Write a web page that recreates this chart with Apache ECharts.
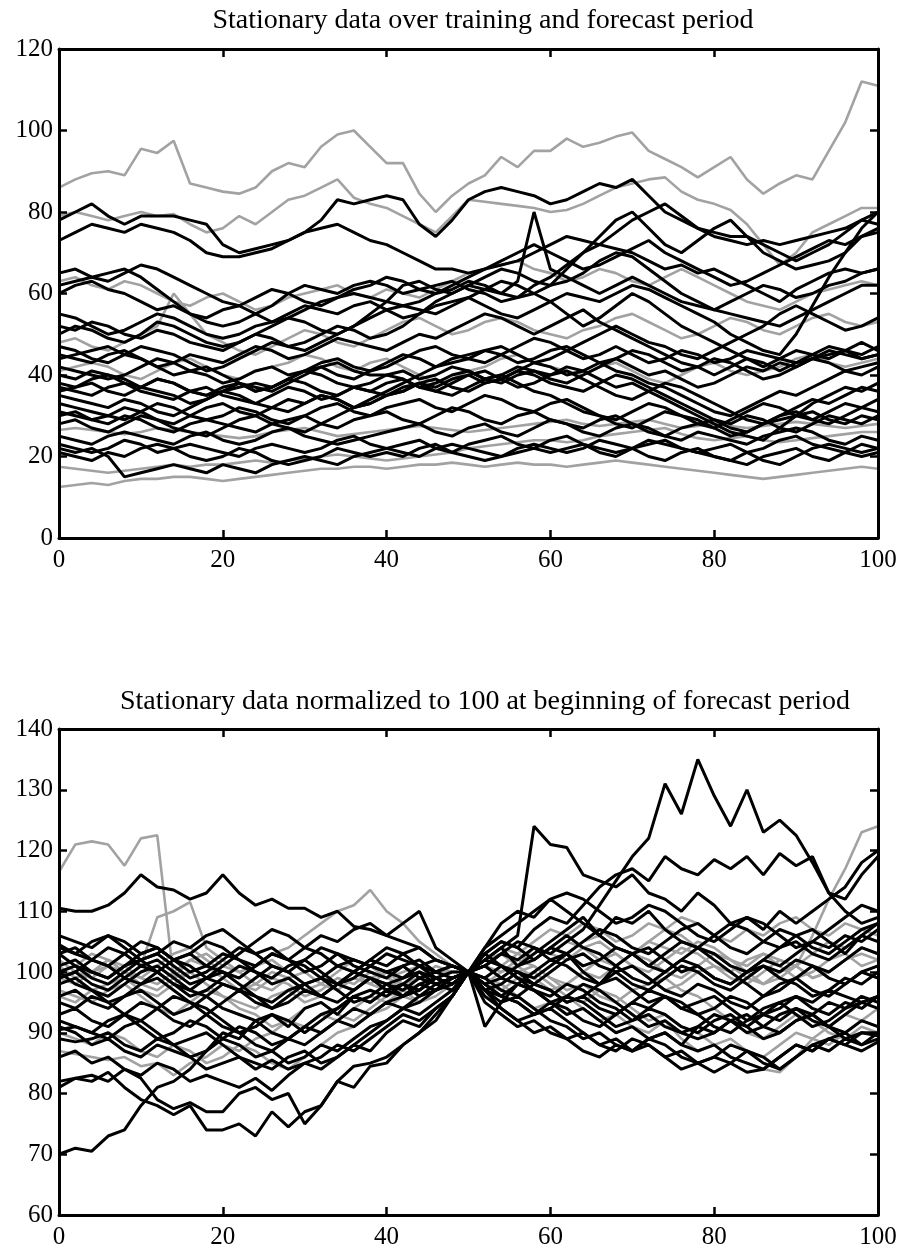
<!DOCTYPE html>
<html>
<head>
<meta charset="utf-8">
<title>Stationary data</title>
<script src="https://cdn.jsdelivr.net/npm/echarts@6/dist/echarts.min.js"></script>
<style>
html, body { margin: 0; padding: 0; background: #fff; }
#chart { width: 907px; height: 1251px; }
</style>
</head>
<body>
<div id="chart"></div>
<script>
// time steps, read every second step of the 0..100 period
var days = [0,2,4,6,8,10,12,14,16,18,
  20,22,24,26,28,30,32,34,36,38,
  40,42,44,46,48,50,52,54,56,58,
  60,62,64,66,68,70,72,74,76,78,
  80,82,84,86,88,90,92,94,96,98,
  100];

var xTicks = [0, 20, 40, 60, 80, 100];
var topTicks = [0, 20, 40, 60, 80, 100, 120];
var lowTicks = [60, 70, 80, 90, 100, 110, 120, 130, 140];

// ---- upper panel: raw series (grey ones first) ----
var tGrayA = [86,88,89.5,90,89,95.5,94.5,97.5,87,86,
  85,84.5,86,90,92,91,96,99,100,96,
  92,92,84.5,80,84,87,89,93.5,91,95,
  95,98,96,97,98.5,99.5,95,93,91,88.5,
  91,93.5,88,84.5,87,89,88,95,102,112,
  111];
var tGrayB = [79,80,79,78,79,80,79,79.5,77,75,
  76,79,77,80,83,84,86,88,83.5,82,
  81,79,77,75,79,83,82.5,82,81.5,81,
  80,80.5,82,84,86,87,88,88.5,85,83,
  82,80.5,77,72,67,70,75,77,79,81,
  81];
var tGray63 = [63,64,62,61,63,62,60,58,57,59,
  60,58,56,57,59,60,61,62,60,59,
  61,60,59,61,63,65,66,67,68,66,
  65,63,64,66,65,63,62,64,66,64,
  62,60,58,57,56,58,60,61,62,63,
  62];
var tGray48 = [48,49,47,46,48,50,52,60,55,50,
  48,46,45,47,49,51,50,48,47,49,
  51,53,54,52,50,51,53,54,53,51,
  50,49,51,52,54,55,53,51,49,50,
  52,54,53,51,50,52,54,55,53,52,
  53];
var tGray41 = [41,42,43,42,40,39,41,43,44,42,
  40,39,41,42,43,45,44,42,41,43,
  44,42,40,38,39,41,42,44,45,43,
  42,41,40,42,43,41,39,38,40,42,
  43,41,40,41,42,44,45,43,42,43,
  44];
var tGray26 = [26.5,27,26.5,26,25.5,26,27,26.5,26,25.5,
  25,24.5,25,26,26.5,27,26,25,25.5,26,
  26.5,27,27.5,27,26.5,26,26.5,27,27.5,28,
  28.5,29,28,27.5,28,28.5,29,28,27,27.5,
  28,27.5,27,27.5,28,28.5,28,27.5,27,27.5,
  28];
var tGray17 = [17.5,17,16.5,16,16.5,17,17.5,18,17.5,18,
  18,18.5,19,18.5,19,19.5,20,20.5,20,19.5,
  19,19.5,20,20.5,21,22,22.5,23,23.5,24,
  24,23.5,24,25,25.5,26,26.5,27,25.5,24.5,
  24,24.5,25,24,23.5,24,24.5,25,25.5,26,
  26];
var tGray12 = [12.5,13,13.5,13,14,14.5,14.5,15,15,14.5,
  14,14.5,15,15.5,16,16.5,17,17,17.5,17.5,
  17,17.5,18,18,18.5,18,17.5,18,18.5,18,
  18,17.5,18,18.5,19,18.5,18,17.5,17,16.5,
  16,15.5,15,14.5,15,15.5,16,16.5,17,17.5,
  17];

var tK78 = [78,80,82,79,77,79,79,79,78,77,
  72,70,71,72,73,75,78,83,82,83,
  84,83,77,74,78,83,85,86,85,84,
  82,83,85,87,86,88,84,80,78,76,
  75,74,74,72,70,68,70,72,75,78,
  80];
var tK73 = [73,75,77,76,75,77,76,75,73,70,
  69,69,70,71,73,75,76,77,75,73,
  72,70,68,66,66,65,66,67,68,70,
  72,74,73,72,75,78,80,82,79,76,
  74,73,72,73,72,73,74,75,76,78,
  77];
var tK65 = [65,66,64,63,65,67,66,64,62,60,
  58,57,59,61,60,58,57,59,61,62,
  64,63,61,60,62,64,66,68,70,72,
  70,68,66,67,69,71,73,70,68,66,
  64,62,63,65,67,69,71,73,72,74,
  75];
var tK62 = [62,63,64,65,66,64,61,58,55,54,
  56,57,55,53,54,56,58,59,60,59,
  58,57,58,60,61,63,62,60,59,60,
  62,63,65,68,70,69,66,63,60,58,
  56,55,54,53,52,54,56,58,60,62,
  62];
var tK60 = [60,62,63,61,60,58,56,57,55,53,
  52,53,55,57,60,62,61,60,62,63,
  62,60,61,62,63,61,60,58,59,62,
  64,67,70,72,71,70,68,66,67,65,
  66,64,62,60,58,61,63,65,66,65,
  66];
var tK55 = [55,54,52,50,51,53,55,54,52,50,
  49,50,52,53,55,57,56,55,57,58,
  56,54,55,57,58,59,57,55,54,56,
  58,60,59,58,60,62,61,59,57,55,
  53,50,48,46,45,50,57,64,70,76,
  80];
var tK52 = [52,51,53,52,50,49,51,50,48,47,
  46,48,50,49,47,48,50,52,51,49,
  50,52,55,58,60,62,61,60,63,80,
  66,64,62,60,62,64,62,60,58,57,
  56,58,60,62,61,59,60,62,63,65,
  66];
var tK50 = [50,52,51,49,48,50,53,52,50,48,
  47,48,50,52,54,53,51,50,52,55,
  58,62,63,61,60,62,64,66,65,63,
  62,66,70,74,78,80,76,72,70,73,
  76,78,74,70,68,66,67,68,70,74,
  76];
var tK47 = [47,46,44,43,45,47,46,45,43,41,
  42,44,46,48,47,46,48,50,52,54,
  56,57,56,55,57,59,61,63,62,60,
  58,55,52,54,57,60,58,55,52,50,
  48,46,44,42,44,46,45,44,46,48,
  46];
var tK45 = [45,44,43,45,46,44,42,43,45,44,
  43,45,47,46,44,45,47,49,48,47,
  46,48,50,49,51,53,55,54,52,50,
  52,54,56,53,51,49,47,45,43,42,
  40,42,44,43,41,43,45,47,46,45,
  47];
var tK44 = [44,45,46,47,45,44,42,40,41,42,
  40,38,36,37,39,41,40,38,37,36,
  35,36,38,39,37,36,38,39,41,40,
  38,37,36,38,40,39,37,35,33,31,
  29,28,30,29,27,26,28,30,29,28,
  30];
var tK42 = [42,41,40,39,40,42,44,43,41,40,
  38,39,41,42,40,41,43,44,42,41,
  43,45,44,42,43,44,46,45,43,44,
  46,47,45,43,41,40,38,37,35,33,
  31,30,32,34,36,35,37,39,41,40,
  42];
var tK40 = [40,39,41,40,38,37,39,38,36,35,
  36,38,37,36,38,40,42,43,41,40,
  40,41,39,40,42,41,39,38,40,41,
  39,38,40,42,44,46,45,43,41,42,
  44,43,41,39,40,42,44,45,46,44,
  45];
var tK38 = [38,37,39,40,39,37,36,35,33,34,
  36,37,38,37,39,41,42,40,39,41,
  42,44,46,47,45,44,43,45,47,49,
  48,46,44,45,47,45,43,44,46,45,
  43,44,46,45,44,43,44,46,45,44,
  45];
var tK37 = [37,36,35,37,38,36,35,34,36,37,
  35,34,33,35,37,36,34,35,37,36,
  38,39,37,36,38,40,41,39,37,38,
  40,41,39,37,35,34,36,38,37,35,
  33,31,29,28,30,32,34,33,35,37,
  36];
var tK36 = [36,37,38,36,35,37,39,38,36,35,
  37,38,36,37,39,38,36,35,37,38,
  40,39,37,38,40,41,39,40,42,41,
  40,42,41,39,37,38,36,34,32,30,
  28,26,25,24,27,30,33,35,37,36,
  38];
var tK35 = [35,34,33,32,34,33,31,30,32,34,
  36,35,33,32,31,33,35,34,32,33,
  35,37,38,36,35,37,39,40,38,36,
  35,33,31,30,29,31,33,32,30,29,
  27,25,26,28,30,31,29,28,30,32,
  31];
var tK33 = [33,32,31,30,29,31,33,32,30,29,
  30,32,31,29,28,30,32,33,31,30,
  32,33,34,32,31,33,35,34,32,31,
  33,34,32,30,28,27,29,31,30,28,
  27,29,31,33,32,30,29,31,33,32,
  34];
var tK31 = [31,30,29,28,30,29,27,26,28,29,
  28,27,26,28,29,30,28,27,29,30,
  31,29,28,30,32,31,29,28,30,31,
  29,28,27,29,30,28,26,25,27,28,
  29,27,26,28,29,30,31,29,28,30,
  29];
var tK30 = [30,31,29,30,32,31,29,28,30,32,
  33,31,30,32,34,33,35,34,32,33,
  35,36,38,37,39,40,38,39,41,43,
  42,40,41,43,44,42,40,41,39,37,
  38,40,42,41,43,42,44,43,41,42,
  43];
var tK28 = [28,29,27,26,28,30,29,27,26,25,
  27,29,30,28,27,26,28,30,32,34,
  36,38,40,42,44,45,46,47,45,43,
  44,46,48,50,52,50,48,47,45,44,
  46,48,50,52,55,57,55,53,51,52,
  54];
var tK25 = [25,24,23,25,26,25,24,23,25,26,
  24,23,24,26,27,25,24,23,24,25,
  26,27,28,26,25,27,28,26,25,27,
  29,28,26,25,27,28,27,25,24,26,
  25,24,23,25,26,27,26,24,23,25,
  24];
var tK23 = [23,22,21,22,24,23,21,22,23,22,
  21,20,22,23,22,21,22,24,25,23,
  22,23,24,22,21,23,24,25,23,22,
  24,25,23,22,21,22,24,23,22,21,
  20,19,21,22,24,25,23,22,21,23,
  22];
var tK22 = [22,21,22,20,15,16,17,18,17,16,
  18,17,16,18,19,20,19,18,20,21,
  22,21,20,22,23,22,21,20,22,23,
  22,21,22,24,23,22,20,19,21,22,
  20,19,18,20,21,22,20,19,21,20,
  21];
var tK21 = [21,20,19,21,20,22,23,22,20,19,
  20,22,21,19,18,19,20,22,21,20,
  21,20,22,23,21,20,19,20,21,22,
  21,22,23,21,20,22,23,24,22,21,
  22,23,21,19,18,20,22,23,22,21,
  22];

// ---- lower panel: series divided by their value at step 50 (x100) ----
var nGray116 = [116.5,121,121.5,121,117.5,122,122.5,99,102,101,
  100,98,97,99,98,96,97,99,98,100,
  99,98,99,100,100,100,102,101,103,102,
  104,103,105,106,104,103,105,107,106,104,
  103,101,99,98,100,101,99,100,102,103,
  102];
var nGray102 = [102,100,99,101,100,98,97,99,100,98,
  96,95,94,96,97,95,96,98,97,99,
  100,98,99,101,100,100,102,103,101,104,
  103,102,104,105,103,101,100,102,104,103,
  101,100,102,103,101,99,100,102,103,101,
  102];
var nGray97 = [97,96,95,97,98,96,94,93,95,97,
  96,94,93,91,92,94,95,93,92,94,
  96,97,95,96,98,100,101,100,102,101,
  99,98,100,102,103,101,99,97,98,100,
  101,99,98,100,102,101,99,100,102,104,
  103];
var nGray90 = [90,89,88,90,89,87,86,88,87,85,
  86,88,87,85,84,86,88,90,91,93,
  94,96,95,97,98,100,98,97,99,100,
  98,96,95,97,96,94,92,93,91,90,
  88,89,87,86,88,90,89,91,93,92,
  94];
var nGray87 = [87,86.5,86,85.5,86,84.5,85,83,85,86,
  88,87,89,90,92,91,93,92,94,96,
  95,97,98,97,99,100,102,104,103,105,
  107,106,108,107,105,106,108,107,109,108,
  106,105,107,106,108,109,107,106,108,107,
  106];
var nGray96 = [96,95,97,98,99,101,109,110,111.5,104,
  102,100,101,103,104,106,108,110,111,113.5,
  110,108,105,103,101,100,99,98,100,101,
  99,97,98,96,95,97,98,99,97,96,
  94,92,90,89,91,93,92,90,89,91,
  90];
var nGray99 = [99,98,100,101,99,97,96,98,100,101,
  99,97,98,100,99,97,98,100,102,101,
  99,100,101,99,100,100,101,103,102,104,
  103,105,104,102,101,103,105,104,103,105,
  104,102,101,103,102,101,106,112,117,123,
  124];
var nGray101 = [101,99,100,102,101,99,98,100,102,103,
  101,100,98,97,99,100,98,97,99,98,
  100,101,99,98,99,100,97,98,96,94,
  95,96,94,92,93,91,90,92,89,87,
  88,86,85,84,83.5,86,89,88,90,92,
  91];
var nGray100 = [100,101,103,102,100,99,101,103,104,102,
  100,99,101,102,100,98,99,101,100,98,
  97,99,100,98,99,100,98,100,101,99,
  97,98,100,99,101,103,102,100,99,101,
  103,102,100,98,99,101,103,105,104,106,
  105];

var nK110 = [110.5,110,110,111,113,116,114,113.5,112,113,
  116,113,111,112,110.5,110.5,109,110,107.5,107,
  106,105,104,102,101,100,102,104,101,103,
  105,107,109,106,104,103,101,103,105,104,
  102,100,98,96,97,99,101,100,102,104,
  103];
var nK70 = [70,71,70.5,73,74,78,81,82,84,87,
  90,89,92,93,91,94,95,93,96,97,
  96,98,97,99,98,100,99,97,96,98,
  97,95,96,98,99,97,95,96,94,95,
  96,94,92,93,95,96,94,93,95,94,
  96];
var nK82 = [82,82.5,83,82,84,82.5,79,77.5,78.5,77,
  77,80,81,79,80,75,78,82,84.5,85,
  86,88,90,92,96,100,103,101,99,97,
  95,96,98,97,95,93,91,92,90,91,
  93,92,90,91,93,94,92,91,93,95,
  94];
var nK81 = [81,82.5,82,83.5,81,79,78,76.5,78,74,
  74,75,73,77,74.5,77,78,82,81,84.5,
  85,88,90,93,96,100,97,98,100,99,
  101,103,100,98,101,103,104,102,100,101,
  99,98,100,102,101,103,105,104,106,105,
  107];
var nK106 = [106,105,104,106,105,103,104,102,103,105,
  104,102,101,103,102,100,101,103,102,101,
  100,101,99,100,101,100,98,99,101,102,
  104,103,101,102,104,103,101,100,102,104,
  103,101,100,102,104,105,103,102,104,106,
  105];
var nK104 = [104.5,103,102,104,103,101,102,100,98,99,
  101,103,105,107,106,104,103,101,100,102,
  104,103,101,100,99,100,104,106,108,110,
  112,113,112,110,108,109,111,110,108,106,
  105,107,109,108,106,104,105,107,109,111,
  110];
var nK103 = [103,101,100,99,101,102,100,98,97,99,
  100,98,96,95,97,98,96,95,97,99,
  98,96,97,99,98,100,101,99,98,100,
  102,101,99,98,100,101,99,97,96,98,
  97,95,94,96,98,99,97,96,98,100,
  99];
var nK100 = [100,98,97,95,96,98,99,97,95,94,
  92,90,91,93,92,90,92,94,96,95,
  97,98,96,97,99,100,98,96,95,93,
  94,96,95,93,91,92,94,93,91,90,
  92,93,91,89,90,92,93,91,90,92,
  91];
var nK98 = [98,99,97,96,98,100,101,99,97,96,
  94,93,92,90,89,91,90,92,94,93,
  95,96,98,97,99,100,103,105,104,102,
  104,106,104,103,101,99,98,100,102,101,
  99,98,100,101,99,98,96,97,99,98,
  100];
var nK95 = [95,94,96,95,93,92,94,96,95,93,
  91,90,88,87,89,88,90,92,91,93,
  95,94,96,98,99,100,97,95,96,94,
  92,91,89,90,88,87,89,88,86,85,
  86,88,87,85,84,86,88,89,90,88,
  89];
var nK92 = [92,91,90,92,93,91,89,90,92,91,
  89,88,86,87,85,86,88,87,89,91,
  92,94,95,97,98,100,99,101,100,98,
  97,95,96,94,93,95,97,96,94,93,
  91,90,92,94,95,93,91,92,94,95,
  96];
var nK90 = [90.5,91,90,89,91,92,90,88,89,90,
  88,86,85,84,86,87,85,86,88,90,
  92,94,93,95,97,100,101,103,105,104,
  102,103,105,107,106,104,103,105,107,108,
  106,104,103,105,107,106,104,103,105,107,
  108];
var nK89 = [89,88.5,89,90,88,87,89,88,86,87,
  89,91,90,88,89,91,93,94,96,95,
  97,96,98,99,98,100,96,94,92,93,
  95,94,92,91,93,95,94,96,95,93,
  94,96,95,93,94,96,95,97,96,95,
  96];
var nK86 = [86,87,85,86,84,83,85,84,82,83,
  82,81,82.5,80.5,83,85,84,86,88,87,
  90,92,91,94,96,100,95,93,91,92,
  90,89,90,88,87,89,88,86,84,85,
  83.5,85,87,86,84,86,88,87,89,88,
  90];
var nK104b = [104,103,105,106,104,102,103,105,104,106,
  107,105,103,104,102,104,106,105,107,108,
  106,108,110,104,102,100,97,96,98,97,
  95,93,94,92,90,91,89,90,88,87,
  88,86,85,84,86,88,87,89,88,87,
  88.5];
var nK91 = [91,90,88,89,87,86,88,87,86,84,
  85,86,84,85.5,84,85,86,88,87,89,
  91,93,92,94,96,100,91,95,98,97,
  96,98,97,95,94,92,93,91,90,89,
  90,92,91,93,92,94,93,95,94,96,
  95];
var nK101 = [101,102,100,99,101,103,104,102,100,101,
  103,102,100,99,101,102,100,98,99,101,
  100,99,101,102,101,100,101,103,102,104,
  103,105,107,111,115,119,122,131,126,135,
  129,124,130,123,125,122.5,118,113,112,116,
  119];
var nK99 = [99,100,102,101,99,98,100,102,101,99,
  98,97,99,101,100,98,99,101,102,101,
  103,102,101,99,100,100,102,104,106,124,
  121,120.5,116,115,114,116,113,112,110,113,
  111,108,109,107,110,108,110,112,114,118,
  120];
var nK100b = [100,101,99,98,100,102,103,101,99,100,
  102,104,103,101,100,102,104,103,101,100,
  99,101,102,100,101,100,103,105,104,107,
  109,108,111,114,116,117,115,119,117,116,
  118.5,117,119,116,119.5,117.5,119,113,110,108,
  109];
var nK99b = [99,100,98,97,99,101,100,98,96,97,
  99,101,100,98,99,97,96,98,100,99,
  97,98,100,99,98,100,98,96,95,93,
  94,92,90,88,89,87,88,86,87,85,
  86,85,83.5,84,86,88,87,89,88,90,
  90];
var nK96 = [96,97,95,94,96,97,95,93,94,96,
  98,97,95,94,96,98,99,97,95,96,
  98,99,100,98,99,100,97,94,92,90,
  91,89,87,86,88,87,89,90,88,91,
  90,92,93,91,90,92,93,91,89,90,
  89.5];
var nK103b = [103,104,102,101,103,105,104,102,103,101,
  100,99,101,103,102,101,99,98,100,102,
  101,103,104,102,101,100,104,108,110,109,
  112,110,108,106,109,108,110,107,105,104,
  106,108,107,105,104,106,107,105,103,106,
  108];
var nK93 = [93,94,92,91,93,95,94,92,91,93,
  95,97,96,94,95,97,96,98,97,99,
  98,97,99,98,97,100,102,101,99,98,
  100,102,103,101,100,98,97,99,101,100,
  98,97,99,101,100,102,101,99,98,100,
  101];

var topGray = [tGrayA, tGrayB, tGray63, tGray48, tGray41, tGray26, tGray17, tGray12];
var topBlack = [tK78, tK73, tK65, tK62, tK60, tK55, tK52, tK50, tK47, tK45, tK44,
  tK42, tK40, tK38, tK37, tK36, tK35, tK33, tK31, tK30, tK28, tK25, tK23, tK22, tK21];
var lowGray = [nGray116, nGray102, nGray97, nGray90, nGray87, nGray96, nGray99, nGray101, nGray100];
var lowBlack = [nK110, nK70, nK82, nK81, nK106, nK104, nK103, nK100, nK98, nK95, nK92,
  nK90, nK89, nK86, nK104b, nK91, nK101, nK99, nK100b, nK99b, nK96, nK103b, nK93];

var serif = "'Liberation Serif', 'DejaVu Serif', serif";
var GRAY = '#a2a2a2';

function toPairs(vals) {
  return vals.map(function (v, i) { return [days[i], v]; });
}

function makeSeries(list, axisIdx, color, width) {
  return list.map(function (vals) {
    return {
      type: 'line',
      xAxisIndex: axisIdx,
      yAxisIndex: axisIdx,
      data: toPairs(vals),
      symbol: 'none',
      silent: true,
      lineStyle: { color: color, width: width },
      z: 2
    };
  });
}

function axis(gridIndex, pos, min, max, ticks, showLabel) {
  return {
    gridIndex: gridIndex,
    type: 'value',
    position: pos,
    min: min,
    max: max,
    interval: ticks[1] - ticks[0],
    axisLine: { show: true, onZero: false, lineStyle: { color: '#000', width: 3 } },
    axisTick: { show: true, inside: true, length: 8, lineStyle: { color: '#000', width: 2.5 } },
    axisLabel: {
      show: showLabel,
      color: '#000',
      fontFamily: serif,
      fontSize: 25,
      margin: (pos === 'left') ? 6 : 10
    },
    splitLine: { show: false },
    z: 5
  };
}

var chart = echarts.init(document.getElementById('chart'));
chart.setOption({
  animation: false,
  backgroundColor: '#fff',
  title: [{
    text: 'Stationary data over training and forecast period',
    left: 478, top: 2, textAlign: 'center',
    textStyle: { fontFamily: serif, fontSize: 28, fontWeight: 'normal', color: '#000' }
  }, {
    text: 'Stationary data normalized to 100 at beginning of forecast period',
    left: 480, top: 683, textAlign: 'center',
    textStyle: { fontFamily: serif, fontSize: 28, fontWeight: 'normal', color: '#000' }
  }],
  grid: [
    { left: 59, right: 29, top: 49, height: 489 },
    { left: 59, right: 29, top: 729, height: 486 }
  ],
  xAxis: [
    axis(0, 'bottom', 0, 100, xTicks, true),
    axis(0, 'top', 0, 100, xTicks, false),
    axis(1, 'bottom', 0, 100, xTicks, true),
    axis(1, 'top', 0, 100, xTicks, false)
  ],
  yAxis: [
    axis(0, 'left', 0, 120, topTicks, true),
    axis(0, 'right', 0, 120, topTicks, false),
    axis(1, 'left', 60, 140, lowTicks, true),
    axis(1, 'right', 60, 140, lowTicks, false)
  ],
  series: [].concat(
    makeSeries(topGray, 0, GRAY, 2.6),
    makeSeries(topBlack, 0, '#000', 3),
    makeSeries(lowGray, 2, GRAY, 2.6),
    makeSeries(lowBlack, 2, '#000', 3)
  )
});
</script>
</body>
</html>
